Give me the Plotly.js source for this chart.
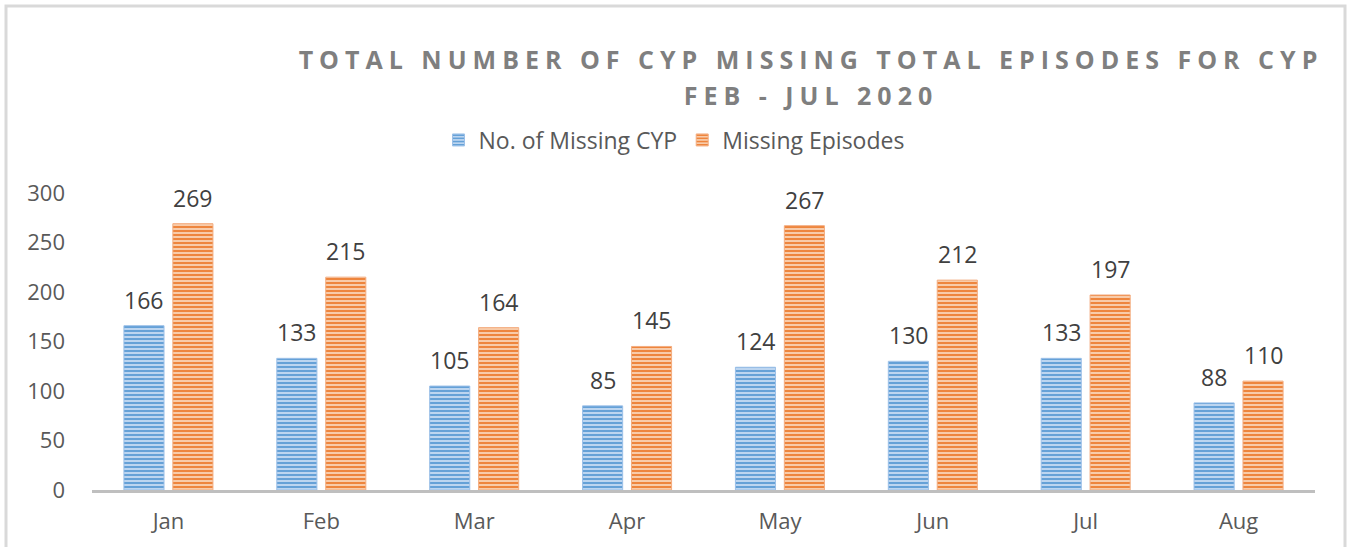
<!DOCTYPE html>
<html>
<head>
<meta charset="utf-8">
<script src="https://cdn.plot.ly/plotly-3.0.1.min.js"></script>
<style>
html,body{margin:0;padding:0;background:#fff;}
#chart{width:1349px;height:547px;}
</style>
</head>
<body>
<div id="chart"></div>
<script>
const months = ['Jan','Feb','Mar','Apr','May','Jun','Jul','Aug'];
const missingCYP = [166,133,105,85,124,130,133,88];
const missingEpisodes = [269,215,164,145,267,212,197,110];
const seriesNames = ['No. of Missing CYP','Missing Episodes'];
const yTickVals = [0,50,100,150,200,250,300];
const titleLines = ['TOTAL NUMBER OF CYP MISSING TOTAL EPISODES FOR CYP','FEB - JUL 2020'];

const W = 1349, H = 547;
const M = {l:92, r:34, t:193, b:57};
const pw = W - M.l - M.r, ph = H - M.t - M.b;
const px2x = p => (p - M.l) / pw;
const py2y = p => (H - M.b - p) / ph;

const FONT = '"Open Sans", "Liberation Sans", sans-serif';
const blue = '#5B9BD5', orange = '#ED7D31';

const traces = [
  {type:'bar', name:seriesNames[0], x:months, y:missingCYP,
   marker:{color:'#a7c7ea', line:{color:'#9cc0e8', width:1},
     pattern:{shape:'-', fgcolor:blue, bgcolor:'#bcd5f0', size:4, solidity:0.45}},
   hoverinfo:'x+y'},
  {type:'bar', name:seriesNames[1], x:months, y:missingEpisodes,
   marker:{color:'#f4b285', line:{color:'#f3ad80', width:1},
     pattern:{shape:'-', fgcolor:orange, bgcolor:'#f8cba9', size:4, solidity:0.45}},
   hoverinfo:'x+y'}
];

const annotations = [];
[missingCYP, missingEpisodes].forEach((arr, k) => {
  arr.forEach((v, i) => {
    annotations.push({x:months[i], y:v, xref:'x', yref:'y', text:String(v),
      showarrow:false, yanchor:'bottom', xanchor:'center',
      xshift: k === 0 ? -24.5 : 24.5, yshift:8,
      font:{family:FONT, size:23, color:'#404040'}});
  });
});

const layout = {
  width:W, height:H,
  margin:M,
  paper_bgcolor:'#ffffff', plot_bgcolor:'#ffffff',
  font:{family:FONT, color:'#595959'},
  title:{text:titleLines.join('<br>'), xref:'container', x:811/W, xanchor:'center',
    yref:'container', y:1 - 69/H, yanchor:'top',
    font:{family:FONT, size:25, color:'#7f7f7f', weight:'bold'}},
  barmode:'group', bargap:0.36, bargroupgap:0.18,
  showlegend:true,
  legend:{orientation:'h', x:px2x(674), xanchor:'center', y:py2y(140), yanchor:'middle',
    font:{family:FONT, size:23, color:'#595959'}, itemclick:false, bgcolor:'rgba(0,0,0,0)'},
  xaxis:{type:'category', showgrid:false, zeroline:false, showline:true, linecolor:'#bfbfbf', linewidth:3,
    ticks:'', ticklabelstandoff:10, tickfont:{family:FONT, size:22, color:'#595959'}, fixedrange:true},
  yaxis:{range:[0,300], tickvals:yTickVals, showgrid:false, zeroline:false, showline:false,
    ticks:'', ticklabelstandoff:26, tickfont:{family:FONT, size:22, color:'#595959'}, fixedrange:true},
  annotations:annotations,
  shapes:[{type:'rect', xref:'paper', yref:'paper', x0:px2x(6), x1:px2x(1345), y0:py2y(570), y1:py2y(6),
    line:{color:'#d9d9d9', width:3}, layer:'below'}]
};

Plotly.newPlot('chart', traces, layout, {displayModeBar:false, staticPlot:true}).then(gd => {
  const t = gd.querySelector('.gtitle');
  if (t) {
    t.style.letterSpacing = '6px';
    const lines = t.querySelectorAll('tspan.line');
    if (lines.length > 1) lines[1].setAttribute('dy', '1.45em');
  }
});
</script>
</body>
</html>
